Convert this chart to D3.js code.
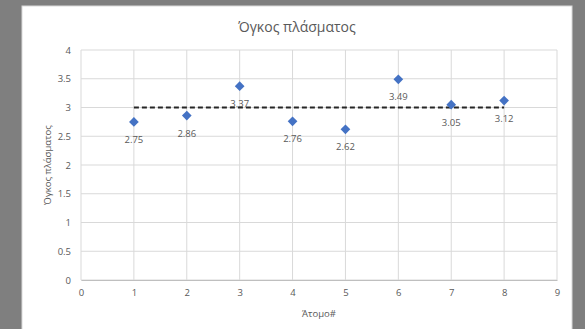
<!DOCTYPE html>
<html><head><meta charset="utf-8">
<script src="https://cdn.jsdelivr.net/npm/d3@7"></script>
<style>body{margin:0;background:#7f7f7f;}svg{display:block;}</style>
</head><body>
<svg id="c" width="585" height="329"></svg>
<script>
const title = "Όγκος πλάσματος";
const xTitle = "Άτομο#";
const yTitle = "Όγκος πλάσματος";
const xValues = [1, 2, 3, 4, 5, 6, 7, 8];
const yValues = [2.75, 2.86, 3.37, 2.76, 2.62, 3.49, 3.05, 3.12];
const meanLine = [[1, 3], [8, 3]];
const xTicks = [0, 1, 2, 3, 4, 5, 6, 7, 8, 9];
const yTicks = [0, 0.5, 1, 1.5, 2, 2.5, 3, 3.5, 4];

const svg = d3.select("#c");
const font = "'Open Sans', 'Liberation Sans', sans-serif";
const txt = "#595959";
svg.append("rect").attr("x", 0).attr("y", 0).attr("width", 585).attr("height", 329).attr("fill", "#7f7f7f");
svg.append("rect").attr("x", 22).attr("y", 6).attr("width", 550).attr("height", 330).attr("fill", "#fff").attr("stroke", "#d9d9d9");

const x = d3.scaleLinear().domain([0, 9]).range([81, 557]);
const y = d3.scaleLinear().domain([0, 4]).range([280, 50]);

// gridlines
svg.append("g").selectAll("line").data(yTicks).join("line")
  .attr("x1", x(0)).attr("x2", x(9)).attr("y1", d => y(d)).attr("y2", d => y(d))
  .attr("stroke", "#d9d9d9").attr("stroke-width", 1);
svg.append("g").selectAll("line").data(xTicks).join("line")
  .attr("y1", y(0)).attr("y2", y(4)).attr("x1", d => x(d)).attr("x2", d => x(d))
  .attr("stroke", "#d9d9d9").attr("stroke-width", 1);

// axes labels
const yAxis = d3.axisLeft(y).tickValues(yTicks).tickSize(0).tickPadding(10).tickFormat(d3.format("~g"));
const gy = svg.append("g").attr("transform", `translate(${x(0)},0)`).call(yAxis);
gy.select(".domain").remove();
gy.selectAll("text").attr("fill", txt).attr("font-size", 9.5).attr("font-family", font);

const xAxis = d3.axisBottom(x).tickValues(xTicks).tickSize(0).tickPadding(9).tickFormat(d3.format("d"));
const gx = svg.append("g").attr("transform", `translate(0,${y(0)})`).call(xAxis);
gx.select(".domain").attr("stroke", "#bfbfbf");
gx.selectAll("text").attr("fill", txt).attr("font-size", 9.5).attr("font-family", font);

// titles
svg.append("text").attr("x", 297).attr("y", 32).attr("text-anchor", "middle")
  .attr("font-size", 14).attr("fill", txt).attr("font-family", font).text(title);
svg.append("text").attr("x", (x(0) + x(9)) / 2).attr("y", 317).attr("text-anchor", "middle")
  .attr("font-size", 9.5).attr("fill", txt).attr("font-family", font).text(xTitle);
svg.append("text").attr("transform", `translate(51,${(y(0) + y(4)) / 2}) rotate(-90)`).attr("text-anchor", "middle")
  .attr("font-size", 9.5).attr("fill", txt).attr("font-family", font).text(yTitle);

// dashed line
svg.append("path").datum(meanLine)
  .attr("d", d3.line().x(d => x(d[0])).y(d => y(d[1])))
  .attr("stroke", "#262626").attr("stroke-width", 2).attr("stroke-dasharray", "5,3").attr("fill", "none");

// markers
const pts = xValues.map((v, i) => ({ x: v, y: yValues[i] }));
svg.append("g").selectAll("path").data(pts).join("path")
  .attr("d", d3.symbol(d3.symbolDiamond2 || d3.symbolDiamond, 60)())
  .attr("transform", d => `translate(${x(d.x)},${y(d.y)}) rotate(${d3.symbolDiamond2 ? 0 : 0})`)
  .attr("fill", "#4472c4");

svg.append("g").selectAll("text").data(pts).join("text")
  .attr("x", d => x(d.x)).attr("y", d => y(d.y) + 21).attr("text-anchor", "middle")
  .attr("font-size", 9.5).attr("fill", txt).attr("font-family", font).text(d => d.y.toFixed(2));
</script>
</body></html>
